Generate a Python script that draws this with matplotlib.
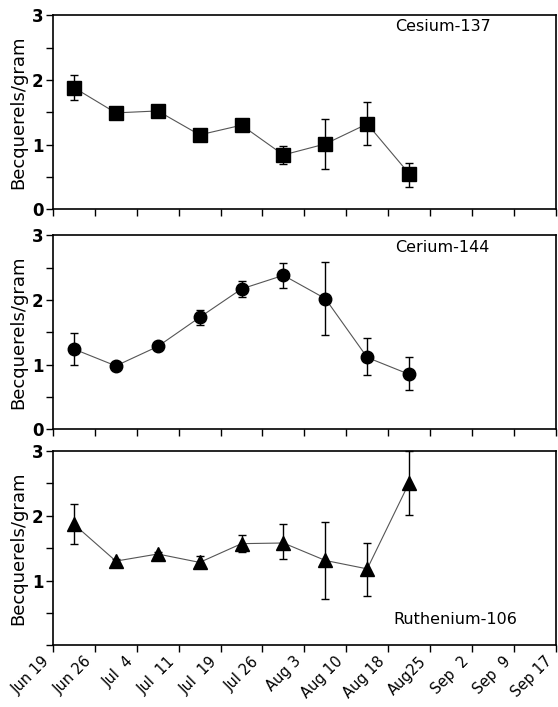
import numpy as np
import matplotlib
matplotlib.use("Agg")
import matplotlib.pyplot as plt
from matplotlib.transforms import ScaledTranslation

# sampling dates (tick labels) and sample positions between them
dates = ["Jun 19", "Jun 26", "Jul  4", "Jul  11", "Jul  19", "Jul 26", "Aug 3",
         "Aug 10", "Aug 18", "Aug25", "Sep  2", "Sep  9", "Sep 17"]
samples = [0.5, 1.5, 2.5, 3.5, 4.5, 5.5, 6.5, 7.5, 8.5]

cs_val = [1.88, 1.49, 1.52, 1.15, 1.30, 0.84, 1.01, 1.32, 0.55]
cs_lo = [1.69, 1.44, 1.47, 1.10, 1.25, 0.70, 0.63, 0.99, 0.35]
cs_hi = [2.07, 1.54, 1.57, 1.20, 1.35, 0.98, 1.39, 1.66, 0.72]

ce_val = [1.24, 0.98, 1.28, 1.73, 2.17, 2.38, 2.02, 1.11, 0.85]
ce_lo = [1.00, 0.95, 1.24, 1.61, 2.04, 2.18, 1.46, 0.84, 0.60]
ce_hi = [1.49, 1.01, 1.32, 1.85, 2.30, 2.57, 2.58, 1.41, 1.11]

ru_val = [1.87, 1.30, 1.41, 1.28, 1.57, 1.58, 1.31, 1.18, 2.51]
ru_lo = [1.57, 1.27, 1.38, 1.22, 1.44, 1.33, 0.71, 0.76, 2.01]
ru_hi = [2.19, 1.33, 1.44, 1.38, 1.70, 1.88, 1.91, 1.58, 3.00]

panels = [
    ("Cesium-137", cs_val, cs_lo, cs_hi, "s", 10.5, (0.775, 0.94)),
    ("Cerium-144", ce_val, ce_lo, ce_hi, "o", 9, (0.775, 0.935)),
    ("Ruthenium-106", ru_val, ru_lo, ru_hi, "^", 10, (0.80, 0.13)),
]
bottoms = [0.704, 0.3928, 0.0874]

fig = plt.figure(figsize=(5.58, 7.07), dpi=100)

for i, (name, v, lo, hi, mk, ms, tpos) in enumerate(panels):
    ax = fig.add_axes([0.095, bottoms[i], 0.901, 0.2745])
    v = np.array(v); lo = np.array(lo); hi = np.array(hi)
    ax.plot(samples, v, color="#555555", lw=0.8, zorder=2)
    ax.errorbar(samples, v, yerr=[v - lo, hi - v], fmt="none", ecolor="black",
                elinewidth=1.0, capsize=3, capthick=1.0, zorder=3, clip_on=False)
    ax.plot(samples, v, mk, color="black", ms=ms, zorder=4)
    ax.text(tpos[0], tpos[1], name, transform=ax.transAxes, ha="center", va="center",
            fontsize=11.5)
    ax.set_xlim(0, 12)
    ax.set_ylim(0, 3)
    ax.set_xticks(range(13))
    ax.set_xticklabels([])
    ax.set_yticks([0, 0.5, 1, 1.5, 2, 2.5, 3])
    if i < 2:
        ax.set_yticklabels(["0", "", "1", "", "2", "", "3"])
    else:
        ax.set_yticklabels(["", "", "1", "", "2", "", "3"])
        # date labels, rotated and ending just left of / below each tick
        shift = ScaledTranslation(-0.06, -0.14, fig.dpi_scale_trans)
        for k, d in enumerate(dates):
            ax.text(k, 0, d, transform=ax.get_xaxis_transform() + shift,
                    rotation=45, ha="right", va="center", rotation_mode="anchor",
                    fontsize=10.5, clip_on=False)
    for lab in ax.get_yticklabels():
        lab.set_fontweight("bold")
        lab.set_fontsize(12)
    ax.tick_params(direction="out", length=5, width=1.0)
    ax.tick_params(axis="y", pad=2)
    for s in ax.spines.values():
        s.set_linewidth(1.2)
    ax.set_ylabel("Becquerels/gram", fontsize=13, labelpad=3)

fig.savefig("out.png", dpi=100)
